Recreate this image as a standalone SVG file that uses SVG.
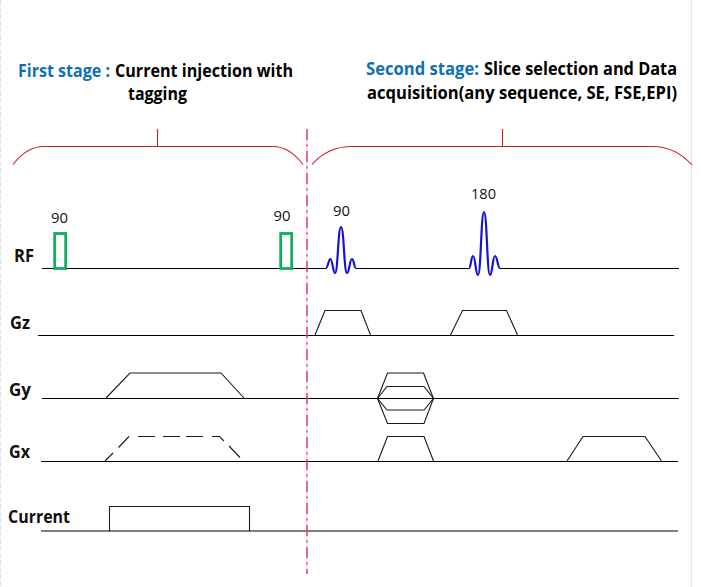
<svg xmlns="http://www.w3.org/2000/svg" width="701" height="587" viewBox="0 0 701 587">
<style>
text{font-family:"Open Sans","Noto Sans","Liberation Sans",sans-serif}
.t{font-size:17.5px;font-weight:700;fill:#000}
.b{font-size:17.500px;font-weight:700;fill:#0f70b7}
.l{font-size:17px;font-weight:700;fill:#111}
.n{font-size:15px;fill:#111}
.a{fill:none;stroke:#000;stroke-width:1.2}
.s{fill:none;stroke:#1a1a1a;stroke-width:1.1}
.r{fill:none;stroke:#c8202f;stroke-width:1.1}
.g{fill:none;stroke:#0fae5c;stroke-width:2.8}
.p{fill:none;stroke:#1414d2;stroke-width:2.2;stroke-linejoin:round}
</style>
<rect width="701" height="587" fill="#fff"/>
<g id="page-edges">
<line x1="0.5" y1="0" x2="0.5" y2="587" stroke="#e2e2e2" stroke-width="1" stroke-dasharray="5 2"/>
<line x1="691.5" y1="0" x2="691.5" y2="587" stroke="#e8e8e8" stroke-width="1"/>
</g>
<g id="title-first">
<text class="b" x="18" y="77" textLength="92" lengthAdjust="spacingAndGlyphs">First stage :</text>
<text class="t" x="115" y="77" textLength="178" lengthAdjust="spacingAndGlyphs">Current injection with</text>
<text class="t" x="128" y="100" textLength="59" lengthAdjust="spacingAndGlyphs">tagging</text>
</g>
<g id="title-second">
<text class="b" x="366" y="75" textLength="113" lengthAdjust="spacingAndGlyphs">Second stage:</text>
<text class="t" x="484" y="75" textLength="193" lengthAdjust="spacingAndGlyphs">Slice selection and Data</text>
<text class="t" x="367" y="99" textLength="310" lengthAdjust="spacingAndGlyphs">acquisition(any sequence, SE, FSE,EPI)</text>
</g>
<g id="brace-first">
<path class="r" d="M13 164.500C21 154 31 146.500 44 146.500H273C286 146.500 295 154 303 164.500"/>
<line class="r" x1="157.500" y1="129" x2="157.500" y2="146.500"/>
</g>
<g id="brace-second">
<path class="r" d="M312 164.500C322 153 336 146.500 352 146.500H653C668 146.500 681 153 692 165"/>
<line class="r" x1="502.500" y1="129" x2="502.500" y2="146.500"/>
</g>
<g id="labels">
<text class="l" x="14" y="262" textLength="20" lengthAdjust="spacingAndGlyphs">RF</text>
<text class="l" x="10" y="329" textLength="20" lengthAdjust="spacingAndGlyphs">Gz</text>
<text class="l" x="9" y="396" textLength="22" lengthAdjust="spacingAndGlyphs">Gy</text>
<text class="l" x="9" y="458" textLength="21" lengthAdjust="spacingAndGlyphs">Gx</text>
<text class="l" x="8" y="523" textLength="62" lengthAdjust="spacingAndGlyphs">Current</text>
</g>
<g id="connectors">
<line class="a" x1="42" y1="268.500" x2="326" y2="268.500"/>
<line class="a" x1="356" y1="268.500" x2="469" y2="268.500"/>
<line class="a" x1="500" y1="268.500" x2="679" y2="268.500"/>
<line class="a" x1="38" y1="335.500" x2="674" y2="335.500"/>
<line class="a" x1="42" y1="398.500" x2="679" y2="398.500"/>
<line class="a" x1="41" y1="461.500" x2="678" y2="461.500"/>
<line class="a" x1="41" y1="531" x2="678" y2="531"/>
</g>
<g id="divider">
<line x1="307" y1="129" x2="307" y2="574" stroke="#f4c0cc" stroke-width="1"/>
<line x1="307" y1="129" x2="307" y2="574" stroke="#c4143c" stroke-width="1.1" stroke-dasharray="11 4.500 2 4.500"/>
</g>
<g id="rf-90-a"><rect class="g" x="54.700" y="233.500" width="11" height="35"/><text class="n" x="51" y="223" textLength="17" lengthAdjust="spacingAndGlyphs">90</text></g>
<g id="rf-90-b"><rect class="g" x="280.700" y="233.500" width="11" height="35"/><text class="n" x="273.500" y="221" textLength="17" lengthAdjust="spacingAndGlyphs">90</text></g>
<g id="rf-90-c">
<path class="p" d="M326 268C328 268 328.500 259 330.300 259C332.500 259 333 273 335 273C338 273 338 227 341 227C344 227 344 273 347 273C349.500 273 349.500 259 352 259C354 259 354 268 356 268"/>
<text class="n" x="333" y="216" textLength="17" lengthAdjust="spacingAndGlyphs">90</text>
</g>
<g id="rf-180">
<path class="p" d="M469 268C471 268 471 256 473 256C475.500 256 475.500 275 478 275C481 275 481 212 484 212C487 212 487 275 490 275C492.500 275 492.500 256 495 256C497.500 256 497.500 268 500 268"/>
<text class="n" x="471" y="199" textLength="25" lengthAdjust="spacingAndGlyphs">180</text>
</g>
<g id="gz-1"><polyline class="s" points="315,335 325,310.500 361,310.500 370.500,335"/></g>
<g id="gz-2"><polyline class="s" points="450.500,335 462.500,310.500 506.500,310.500 517.500,335"/></g>
<g id="gy-tag"><polyline class="s" points="106,398 130,373 221,373 244,398"/></g>
<g id="gy-phase">
<polygon class="s" points="377.500,398.500 387.500,373 423.500,373 433.500,398.500 424,423.500 387.500,423.500"/>
<polygon class="s" points="377.500,398.500 387,386.500 424,386.500 433.500,398.500 424,410 387,410"/>
</g>
<g id="gx-tag">
<path class="s" d="M105 461L113 453M118.500 447.500L129 436.500M138 436.500H155M163 436.500H180M186 436.500H203M212 436.500H219.500L224 441M229 446L240 457.500"/>
</g>
<g id="gx-2"><polyline class="s" points="378,461 387.500,436.500 424,436.500 433.500,461"/></g>
<g id="gx-3"><polyline class="s" points="567,461 583,436.500 645,436.500 661.500,461"/></g>
<g id="current"><polyline class="s" points="109.500,531 109.500,506.500 249.500,506.500 249.500,531"/></g>
</svg>
